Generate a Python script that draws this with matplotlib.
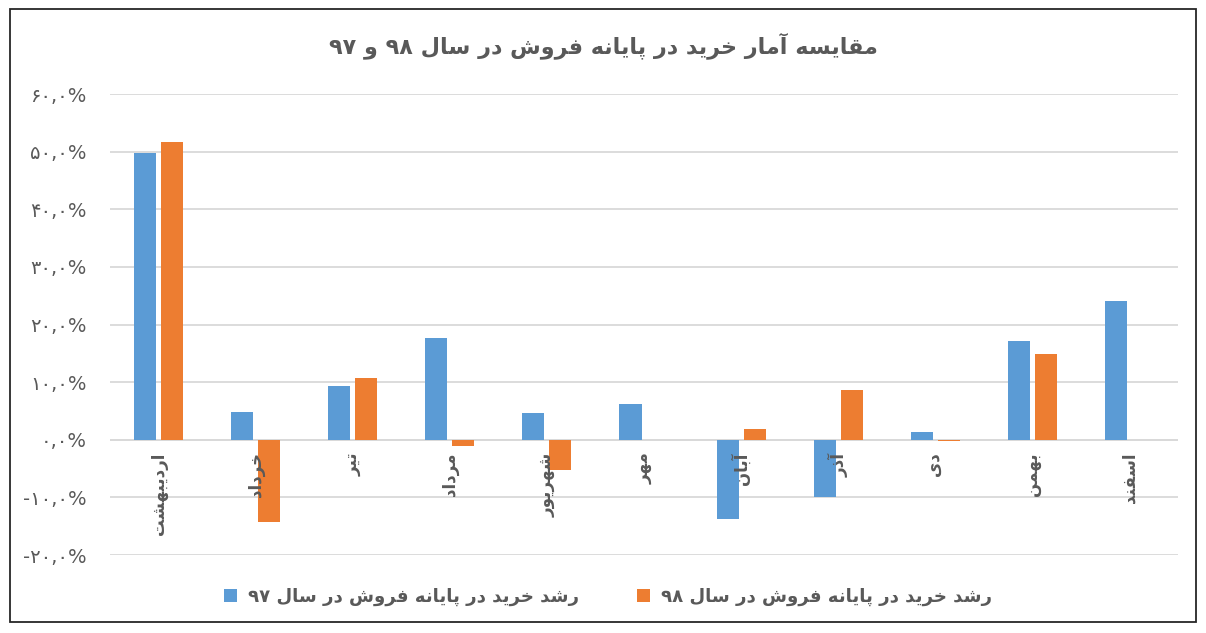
import re
import matplotlib
matplotlib.use('Agg')
import matplotlib.pyplot as plt
from matplotlib.ticker import FuncFormatter, MultipleLocator
from matplotlib.patches import Rectangle
import numpy as np

# data
title = 'مقایسه آمار خرید در پایانه فروش در سال ۹۸ و ۹۷'
months = ['اردیبهشت', 'خرداد', 'تیر', 'مرداد', 'شهریور', 'مهر',
          'آبان', 'آذر', 'دی', 'بهمن', 'اسفند']
series_97 = [49.8, 4.9, 9.4, 17.6, 4.6, 6.2, -13.8, -10.0, 1.3, 17.2, 24.1]
series_98 = [51.6, -14.3, 10.7, -1.1, -5.3, 0.0, 1.9, 8.6, -0.3, 14.8, np.nan]
label_97 = 'رشد خرید در پایانه فروش در سال ۹۷'
label_98 = 'رشد خرید در پایانه فروش در سال ۹۸'

BLUE = '#5B9BD5'
ORANGE = '#ED7D31'
GRAY = '#595959'

# matplotlib has no arabic shaping, so do a small one by hand
# (isolated, final, initial, medial); two entries = joins only to the right
FORMS = {
    'ا': ('\uFE8D', '\uFE8E'), 'آ': ('\uFE81', '\uFE82'),
    'د': ('\uFEA9', '\uFEAA'), 'ذ': ('\uFEAB', '\uFEAC'),
    'ر': ('\uFEAD', '\uFEAE'), 'ز': ('\uFEAF', '\uFEB0'),
    'و': ('\uFEED', '\uFEEE'),
    'ب': ('\uFE8F', '\uFE90', '\uFE91', '\uFE92'),
    'پ': ('\uFB56', '\uFB57', '\uFB58', '\uFB59'),
    'ت': ('\uFE95', '\uFE96', '\uFE97', '\uFE98'),
    'خ': ('\uFEA5', '\uFEA6', '\uFEA7', '\uFEA8'),
    'س': ('\uFEB1', '\uFEB2', '\uFEB3', '\uFEB4'),
    'ش': ('\uFEB5', '\uFEB6', '\uFEB7', '\uFEB8'),
    'ف': ('\uFED1', '\uFED2', '\uFED3', '\uFED4'),
    'ق': ('\uFED5', '\uFED6', '\uFED7', '\uFED8'),
    'ل': ('\uFEDD', '\uFEDE', '\uFEDF', '\uFEE0'),
    'م': ('\uFEE1', '\uFEE2', '\uFEE3', '\uFEE4'),
    'ن': ('\uFEE5', '\uFEE6', '\uFEE7', '\uFEE8'),
    'ه': ('\uFEE9', '\uFEEA', '\uFEEB', '\uFEEC'),
    'ی': ('\uFBFC', '\uFBFD', '\uFBFE', '\uFBFF'),
}


def shape(s):
    out = []
    for i, c in enumerate(s):
        if c not in FORMS:
            out.append(c)
            continue
        prev = s[i - 1] if i > 0 else ''
        nxt = s[i + 1] if i + 1 < len(s) else ''
        jp = prev in FORMS and len(FORMS[prev]) == 4
        jn = len(FORMS[c]) == 4 and nxt in FORMS
        f = FORMS[c]
        if jp and jn:
            out.append(f[3])
        elif jp:
            out.append(f[1])
        elif jn:
            out.append(f[2])
        else:
            out.append(f[0])
    shaped = ''.join(out)
    # visual order: reverse, but keep digit runs left to right
    parts = re.split(r'([0-9\u06F0-\u06F9]+)', shaped)
    parts = [p if re.fullmatch(r'[0-9\u06F0-\u06F9]+', p) else p[::-1] for p in parts]
    return ''.join(parts[::-1])


FA_DIGITS = str.maketrans('0123456789', '۰۱۲۳۴۵۶۷۸۹')


def fa_pct(v, pos):
    return ('%.1f' % v).replace('.', ',').translate(FA_DIGITS) + '%'


plt.rcParams['font.family'] = ['DejaVu Sans']

fig = plt.figure(figsize=(12.06, 6.33), dpi=100)
ax = fig.add_axes([0.0912, 0.1232, 0.8856, 0.7283])

x = np.arange(len(months))
w = 0.227
ax.bar(x - 0.139, series_97, w, color=BLUE, label=shape(label_97), zorder=3)
ax.bar(x + 0.139, series_98, w, color=ORANGE, label=shape(label_98), zorder=3)

ax.set_xlim(-0.5, len(months) - 0.5)
ax.set_ylim(-20, 60)
ax.yaxis.set_major_locator(MultipleLocator(10))
ax.yaxis.set_major_formatter(FuncFormatter(fa_pct))
ax.grid(axis='y', color='#D9D9D9', linewidth=1.3, zorder=0)
ax.axhline(0, color='#D9D9D9', linewidth=1.3, zorder=1)
for sp in ax.spines.values():
    sp.set_visible(False)
ax.tick_params(axis='both', length=0, labelsize=14, labelcolor=GRAY)
ax.tick_params(axis='y', pad=17)
ax.set_xticks([])

# month names under the zero line, rotated
for xi, m in zip(x, months):
    ax.text(xi, -2.2, shape(m), rotation=90, ha='center', va='top',
            fontsize=12, fontweight='bold', color=GRAY)

fig.text(0.5, 0.928, shape(title), ha='center', va='center',
         fontsize=16, fontweight='bold', color=GRAY)

fig.legend(loc='center', bbox_to_anchor=(0.504, 0.057), ncol=2, frameon=False,
           prop={'size': 13.1, 'weight': 'bold'}, labelcolor=GRAY,
           handlelength=0.7, handleheight=0.7,
           columnspacing=3.2, handletextpad=0.6)

fig.patches.append(Rectangle((0.0083, 0.0174), 0.9834, 0.9684, transform=fig.transFigure,
                             fill=False, edgecolor='#262626', linewidth=1.3))

fig.savefig('out.png', dpi=100)
